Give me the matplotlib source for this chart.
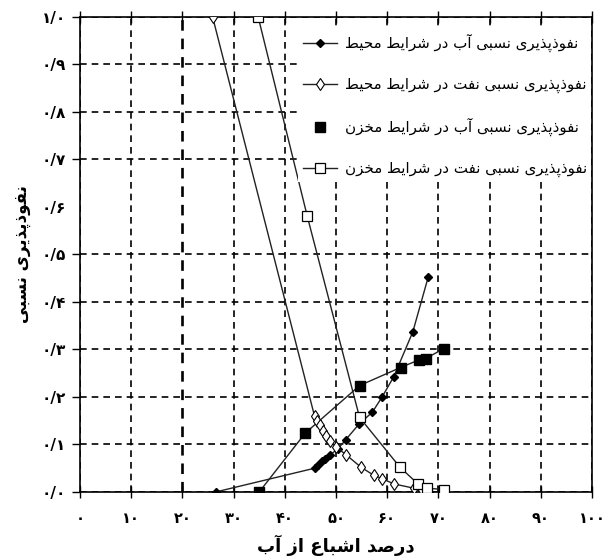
import matplotlib
matplotlib.use('Agg')
import matplotlib.pyplot as plt

# water saturation (%) and relative permeability
sw_amb_water = [26.5, 45.8, 46.5, 47.3, 47.8, 48.8, 50.3, 51.9, 54.5, 57.1, 59.0, 61.3, 65.0, 68.0]
kr_amb_water = [0.0, 0.050, 0.056, 0.065, 0.070, 0.078, 0.090, 0.110, 0.143, 0.168, 0.200, 0.243, 0.337, 0.452]

sw_amb_oil = [25.9, 45.8, 46.3, 46.9, 47.5, 48.1, 48.9, 50.0, 52.0, 54.9, 57.4, 59.0, 61.3, 65.2, 66.8, 68.1]
kr_amb_oil = [1.0, 0.160, 0.150, 0.140, 0.128, 0.118, 0.107, 0.095, 0.078, 0.052, 0.035, 0.028, 0.017, 0.008, 0.005, 0.0]

sw_res_water = [35.0, 44.0, 54.6, 62.6, 66.2, 67.5, 71.1]
kr_res_water = [0.0, 0.124, 0.224, 0.262, 0.278, 0.281, 0.302]

sw_res_oil = [34.8, 44.4, 54.6, 62.5, 66.0, 67.8, 71.1]
kr_res_oil = [1.0, 0.58, 0.157, 0.052, 0.017, 0.008, 0.005]

x_ticks = [0, 10, 20, 30, 40, 50, 60, 70, 80, 90, 100]
x_labels = ['۰', '۱۰', '۲۰', '۳۰', '۴۰', '۵۰', '۶۰', '۷۰', '۸۰', '۹۰', '۱۰۰']
y_ticks = [0.0, 0.1, 0.2, 0.3, 0.4, 0.5, 0.6, 0.7, 0.8, 0.9, 1.0]
y_labels = ['۰/۰', '۰/۱', '۰/۲', '۰/۳', '۰/۴', '۰/۵', '۰/۶', '۰/۷', '۰/۸', '۰/۹', '۱/۰']

labels = ['نفوذپذیری نسبی آب در شرایط محیط',
          'نفوذپذیری نسبی نفت در شرایط محیط',
          'نفوذپذیری نسبی آب در شرایط مخزن',
          'نفوذپذیری نسبی نفت در شرایط مخزن']
x_title = 'درصد اشباع از آب'
y_title = 'نفوذپذیری نسبی'

# matplotlib has no arabic shaping, so pick presentation forms by hand
# (isolated, final, initial, medial)
FORMS = {
    'ا': ('\uFE8D', '\uFE8E', None, None),
    'آ': ('\uFE81', '\uFE82', None, None),
    'د': ('\uFEA9', '\uFEAA', None, None),
    'ذ': ('\uFEAB', '\uFEAC', None, None),
    'ر': ('\uFEAD', '\uFEAE', None, None),
    'ز': ('\uFEAF', '\uFEB0', None, None),
    'و': ('\uFEED', '\uFEEE', None, None),
    'ب': ('\uFE8F', '\uFE90', '\uFE91', '\uFE92'),
    'پ': ('\uFB56', '\uFB57', '\uFB58', '\uFB59'),
    'ت': ('\uFE95', '\uFE96', '\uFE97', '\uFE98'),
    'ح': ('\uFEA1', '\uFEA2', '\uFEA3', '\uFEA4'),
    'خ': ('\uFEA5', '\uFEA6', '\uFEA7', '\uFEA8'),
    'س': ('\uFEB1', '\uFEB2', '\uFEB3', '\uFEB4'),
    'ش': ('\uFEB5', '\uFEB6', '\uFEB7', '\uFEB8'),
    'ص': ('\uFEB9', '\uFEBA', '\uFEBB', '\uFEBC'),
    'ط': ('\uFEC1', '\uFEC2', '\uFEC3', '\uFEC4'),
    'ع': ('\uFEC9', '\uFECA', '\uFECB', '\uFECC'),
    'ف': ('\uFED1', '\uFED2', '\uFED3', '\uFED4'),
    'م': ('\uFEE1', '\uFEE2', '\uFEE3', '\uFEE4'),
    'ن': ('\uFEE5', '\uFEE6', '\uFEE7', '\uFEE8'),
    'ی': ('\uFBFC', '\uFBFD', '\uFBFE', '\uFBFF'),
}


def fa(text):
    """Shape persian letters and reverse them for left to right drawing"""
    out = []
    for i, ch in enumerate(text):
        f = FORMS.get(ch)
        if f is None:
            out.append(ch)
            continue
        prev = text[i - 1] if i > 0 else ''
        nxt = text[i + 1] if i + 1 < len(text) else ''
        pj = prev in FORMS and FORMS[prev][2] is not None
        nj = nxt in FORMS and f[2] is not None
        if pj and nj:
            out.append(f[3])
        elif pj:
            out.append(f[1])
        elif nj:
            out.append(f[2])
        else:
            out.append(f[0])
    return ''.join(out)[::-1]


plt.rcParams['font.family'] = ['DejaVu Sans']

fig = plt.figure(figsize=(6.07, 5.59), dpi=100)
ax = fig.add_axes([0.1318, 0.1199, 0.8435, 0.8497])

line_c = '#222222'
ax.plot(sw_amb_water, kr_amb_water, color=line_c, lw=1, marker='D', ms=4.5,
        mfc='black', mec='black', label=fa(labels[0]), zorder=4)
ax.plot(sw_amb_oil, kr_amb_oil, color=line_c, lw=1, marker='d', ms=6,
        mfc='white', mec='black', mew=0.8, label=fa(labels[1]), zorder=4)
ax.plot(sw_res_water, kr_res_water, color=line_c, lw=1, zorder=3)
ax.plot(sw_res_water, kr_res_water, ls='none', marker='s', ms=6.5,
        mfc='black', mec='black', label=fa(labels[2]), zorder=4)
ax.plot(sw_res_oil, kr_res_oil, color=line_c, lw=1, marker='s', ms=6.5,
        mfc='white', mec='black', mew=0.9, label=fa(labels[3]), zorder=4)

ax.set_xlim(0, 100)
ax.set_ylim(0, 1.0)
ax.set_xticks(x_ticks)
ax.set_xticklabels(x_labels, fontsize=10.5, fontweight='bold')
ax.set_yticks(y_ticks)
ax.set_yticklabels(y_labels, fontsize=11, fontweight='bold')

ax.tick_params(axis='x', direction='inout', length=8, width=1, pad=10, top=True)
ax.tick_params(axis='y', direction='out', length=6, width=1, pad=4)

ax.grid(True, color='black', ls=(0, (4, 3)), lw=1.2)
ax.xaxis.get_gridlines()[2].set_linewidth(1.9)
# no line and no tick at 0.6 in the original
ax.yaxis.get_gridlines()[6].set_visible(False)
ax.yaxis.get_major_ticks()[6].tick1line.set_visible(False)

for s in ax.spines.values():
    s.set_linewidth(1.2)
    s.set_color('black')

ax.set_xlabel(fa(x_title), fontsize=13, fontweight='bold', labelpad=6)
ax.set_ylabel(fa(y_title), fontsize=12, fontweight='bold', labelpad=8)

leg = ax.legend(loc='upper right', bbox_to_anchor=(1.0, 0.975), fontsize=10.8,
                frameon=True, framealpha=1, edgecolor='none', facecolor='white',
                fancybox=False, handlelength=2.3, handletextpad=0.5,
                labelspacing=1.65, borderpad=0.3, borderaxespad=0.05)
leg.set_zorder(5)

fig.savefig('out.png', dpi=100)
